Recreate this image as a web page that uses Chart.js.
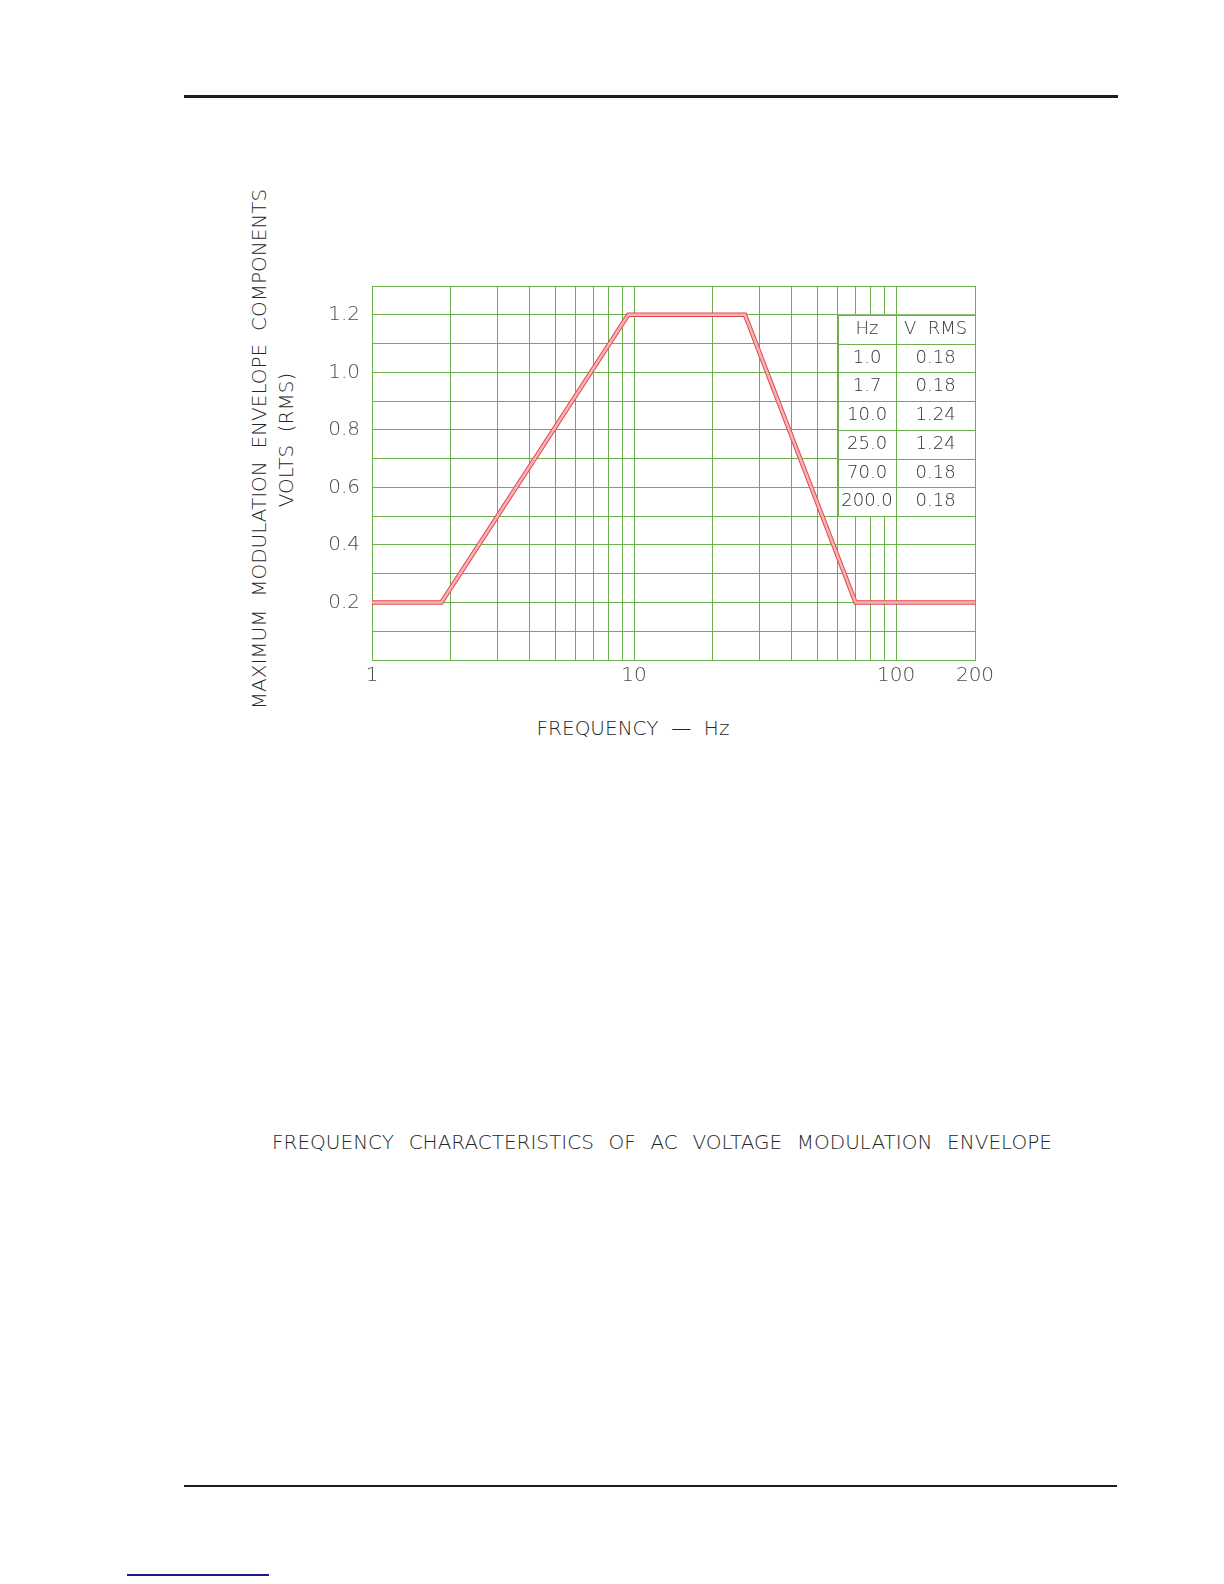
<!DOCTYPE html>
<html lang="en">
<head>
    <meta charset="UTF-8">
    <title>Frequency characteristics of AC voltage modulation envelope</title>
    <script src="https://cdn.jsdelivr.net/npm/chart.js"></script>
    <style>
        html, body { overflow: hidden; }
        body {
            margin: 0;
            background: #ffffff;
            width: 1224px;
            height: 1584px;
            position: relative;
            font-family: "DejaVu Sans", sans-serif;
            font-weight: 200;
            color: #262626;
        }
        .rule { position: absolute; background: #1e1e1e; }
        .txt { position: absolute; white-space: pre; font-size: 20px; line-height: 20px; }
        .chart-box { position: absolute; left: 280px; top: 262px; width: 720px; height: 428px; }
    </style>
</head>
<body>
    <div class="rule" style="left:184px; top:95px; width:934px; height:3px;"></div>

    <!-- axis titles, placed like the drawing -->
    <div class="txt" style="left:259px; top:449px; transform: translate(-50%, -50%) rotate(-90deg);">MAXIMUM  MODULATION  ENVELOPE  COMPONENTS</div>
    <div class="txt" style="left:286px; top:440px; transform: translate(-50%, -50%) rotate(-90deg);">VOLTS  (RMS)</div>

    <div class="chart-box">
        <canvas id="envChart"></canvas>
    </div>

    <div class="txt" style="left:633px; top:728px; transform: translate(-50%, -50%);">FREQUENCY  —  Hz</div>
    <div class="txt" style="left:662px; top:1142px; word-spacing: 1px; transform: translate(-50%, -50%);">FREQUENCY  CHARACTERISTICS  OF  AC  VOLTAGE  MODULATION  ENVELOPE</div>

    <div class="rule" style="left:184px; top:1485px; width:933px; height:1.5px;"></div>
    <div class="rule" style="left:127px; top:1574px; width:142px; height:1.5px; background:#1a1a8c;"></div>

    <script>
        // curve (Hz, volts)
        const freqHz = [1, 1.84, 9.5, 26.5, 70, 200];
        const envelopeV = [0.2, 0.2, 1.2, 1.2, 0.2, 0.2];

        // table printed inside the grid
        const tableHz = ['1.0', '1.7', '10.0', '25.0', '70.0', '200.0'];
        const tableVrms = ['0.18', '0.18', '1.24', '1.24', '0.18', '0.18'];

        // grid lines and labels
        const xGrid = [1, 2, 3, 4, 5, 6, 7, 8, 9, 10, 20, 30, 40, 50, 60, 70, 80, 90, 100, 200];
        const xLabelled = [1, 10, 100, 200];
        const yLabelled = [0.2, 0.4, 0.6, 0.8, 1.0, 1.2];

        const gridGreen = '#6aaf4c';
        const points = freqHz.map((f, i) => ({ x: f, y: envelopeV[i] }));

        // white table over the right part of the grid
        const tablePlugin = {
            id: 'voltTable',
            afterDatasetsDraw(chart) {
                const c = chart.ctx;
                const xs = chart.scales.x, ys = chart.scales.y;
                const left = xs.getPixelForValue(60), mid = xs.getPixelForValue(100), right = xs.getPixelForValue(200);
                const top = ys.getPixelForValue(1.2), bottom = ys.getPixelForValue(0.5);
                c.save();
                c.fillStyle = '#ffffff';
                c.fillRect(left, top, right - left, bottom - top);
                c.strokeStyle = gridGreen;
                c.lineWidth = 1;
                c.beginPath();
                for (let v = 1.2; v >= 0.49; v -= 0.1) {
                    const y = Math.round(ys.getPixelForValue(v)) + 0.5;
                    c.moveTo(left, y); c.lineTo(right, y);
                }
                [left, mid, right].forEach(x => {
                    const px = Math.round(x) + 0.5;
                    c.moveTo(px, top); c.lineTo(px, bottom);
                });
                c.stroke();
                c.fillStyle = '#333333';
                c.font = '200 18px "DejaVu Sans"';
                c.textAlign = 'center';
                c.textBaseline = 'middle';
                const rowH = ys.getPixelForValue(1.1) - top;
                c.fillText('Hz', (left + mid) / 2, top + rowH / 2);
                c.fillText('V  RMS', (mid + right) / 2, top + rowH / 2);
                tableHz.forEach((hz, i) => {
                    const y = top + rowH * (i + 1.5);
                    c.fillText(hz, (left + mid) / 2, y);
                    c.fillText(tableVrms[i], (mid + right) / 2, y);
                });
                c.restore();
            }
        };

        const ctx = document.getElementById('envChart').getContext('2d');
        new Chart(ctx, {
            type: 'line',
            data: {
                datasets: [{
                    // pink core, drawn on top
                    data: points,
                    borderColor: '#f5b3b3',
                    borderWidth: 2.5,
                    pointRadius: 0,
                    tension: 0
                }, {
                    // red outline
                    data: points,
                    borderColor: '#e2474f',
                    borderWidth: 4.5,
                    pointRadius: 0,
                    tension: 0
                }]
            },
            options: {
                responsive: true,
                maintainAspectRatio: false,
                animation: false,
                layout: { padding: { top: 16, right: 25, left: 0, bottom: 0 } },
                plugins: { legend: { display: false }, tooltip: { enabled: false } },
                scales: {
                    x: {
                        type: 'logarithmic',
                        min: 1,
                        max: 200,
                        afterBuildTicks: s => { s.ticks = xGrid.map(v => ({ value: v })); },
                        afterFit: s => { s.height = 30; },
                        grid: { color: gridGreen, lineWidth: 1, drawTicks: false },
                        border: { color: gridGreen, width: 1 },
                        ticks: {
                            autoSkip: false,
                            maxRotation: 0,
                            padding: 4,
                            color: '#4a4a4a',
                            font: { family: '"DejaVu Sans"', size: 20, weight: 200 },
                            callback: v => xLabelled.includes(v) ? String(v) : ''
                        }
                    },
                    y: {
                        min: 0,
                        max: 1.3,
                        afterBuildTicks: s => {
                            s.ticks = [];
                            for (let i = 0; i <= 13; i++) s.ticks.push({ value: i / 10 });
                        },
                        afterFit: s => { s.width = 92; },
                        grid: { color: gridGreen, lineWidth: 1, drawTicks: false },
                        border: { color: gridGreen, width: 1 },
                        ticks: {
                            padding: 12,
                            color: '#4a4a4a',
                            font: { family: '"DejaVu Sans"', size: 20, weight: 200 },
                            callback: v => yLabelled.some(t => Math.abs(t - v) < 1e-6) ? v.toFixed(1) : ''
                        }
                    }
                }
            },
            plugins: [tablePlugin]
        });
    </script>
</body>
</html>
